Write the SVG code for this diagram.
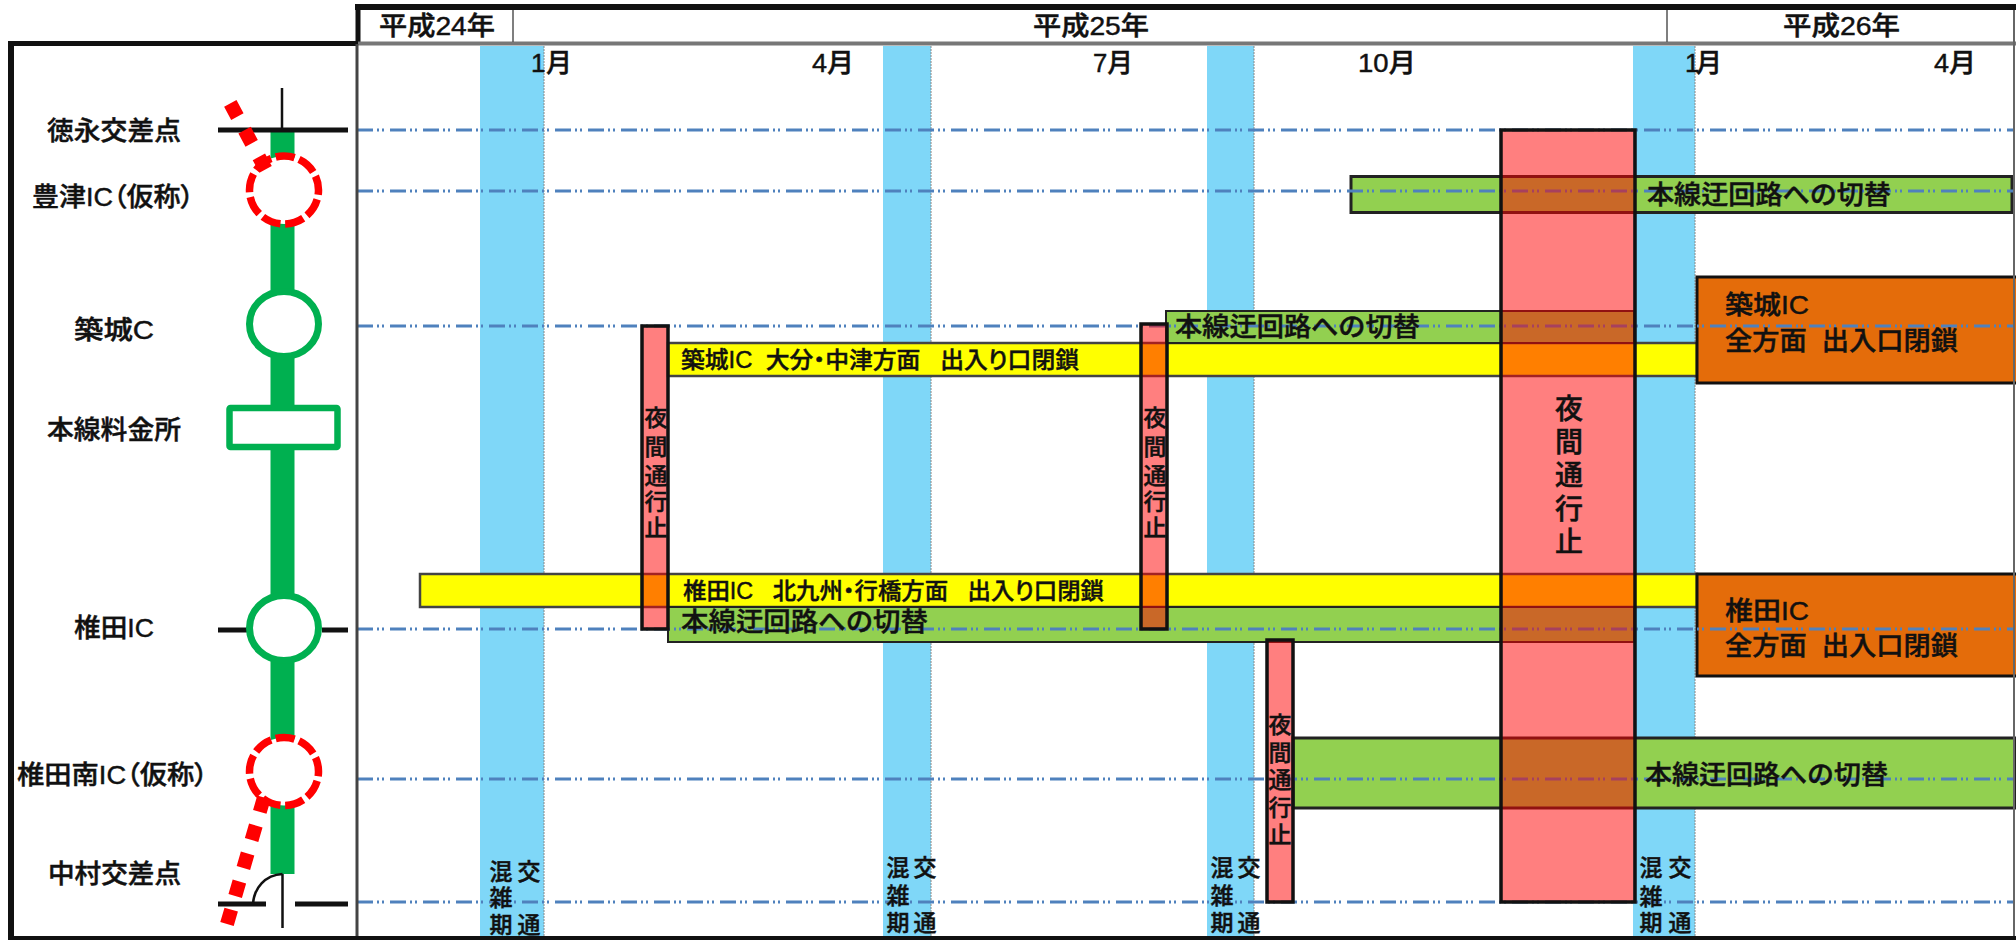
<svg xmlns="http://www.w3.org/2000/svg" width="2016" height="940" viewBox="0 0 2016 940">
<style>
text{font-family:"Liberation Sans","Noto Sans CJK JP",sans-serif;fill:#111;stroke:#111;stroke-width:.45;font-size:26px;font-weight:500}
.m{text-anchor:middle}
.s22{font-size:23px}
.big{font-size:28px}
.palt{font-feature-settings:"palt"}
.band{fill:#7fd7f8}
.edge{stroke:#888;stroke-width:1;stroke-dasharray:2 1;fill:none}
.guide{stroke:#4f81bd;stroke-width:3;stroke-dasharray:16 4 2 3 2 6;fill:none}
.green{fill:#92d050;stroke:#222;stroke-width:3}
.yellow{fill:#ff0;stroke:#444;stroke-width:2.5}
.orange{fill:#e46c0a;stroke:#111;stroke-width:3}
.pink{fill:#f00;fill-opacity:.5;stroke:#111;stroke-width:3.5}
.road{stroke:#00b050;stroke-width:24;fill:none}
.ring{fill:#fff;stroke:#00b050;stroke-width:7}
.dring{fill:#fff;stroke:#f00;stroke-width:7.5;stroke-dasharray:32 8;stroke-dashoffset:-16}
.red{stroke:#f00;stroke-width:14;fill:none}
.blk{stroke:#111;fill:none}
</style>
<rect width="2016" height="940" fill="#fff"/>
<g id="traffic-bands">
<rect class="band" x="480" y="46" width="64" height="890"/><path class="edge" d="M544 46V936"/>
<rect class="band" x="883" y="46" width="48" height="890"/><path class="edge" d="M931 46V936"/>
<rect class="band" x="1207" y="46" width="47" height="890"/><path class="edge" d="M1254 46V936"/>
<rect class="band" x="1633" y="46" width="62" height="890"/><path class="edge" d="M1695 46V936"/>
</g>
<g id="bar-yellow-tsuiki"><rect class="yellow" x="668" y="343" width="1029" height="33"/></g>
<g id="bar-yellow-shiida"><rect class="yellow" x="420" y="574" width="1277" height="33"/></g>
<g id="bar-green-toyotsu"><rect class="green" x="1351" y="176.500" width="661" height="36"/></g>
<g id="bar-green-tsuiki"><rect class="green" x="1166" y="311" width="468" height="32" style="stroke-width:2"/></g>
<g id="bar-green-shiida"><rect class="green" x="668" y="607" width="966" height="35" style="stroke-width:2"/></g>
<g id="bar-green-shiidaminami"><rect class="green" x="1293" y="738" width="723" height="70"/></g>
<g id="box-tsuiki"><rect class="orange" x="1697" y="277" width="321" height="106"/></g>
<g id="box-shiida"><rect class="orange" x="1697" y="574" width="321" height="102"/></g>
<g id="connectors">
<path class="guide" d="M357 130H2014"/>
<path class="guide" d="M357 191H2014"/>
<path class="guide" d="M357 326H2014"/>
<path class="guide" d="M357 629H2014"/>
<path class="guide" d="M357 779H2014"/>
<path class="guide" d="M357 902H2014"/>
<path class="road" d="M282.500 130V874"/>
<path class="blk" stroke-width="5" d="M218 130H348M218 630H248M322 630H348M218 904H266M295 904H348"/>
<path class="blk" stroke-width="2.500" d="M282 88V130M282.500 874V928M282.500 874C265 875 254 888 253 904"/>
</g>
<g id="closure-1"><rect class="pink" x="642" y="326" width="26" height="303"/></g>
<g id="closure-2"><rect class="pink" x="1141" y="324" width="26" height="305"/></g>
<g id="closure-3"><rect class="pink" x="1267" y="640" width="26" height="262"/></g>
<g id="closure-4"><rect class="pink" x="1501" y="130" width="134" height="772"/></g>
<g id="frame">
<path class="blk" stroke-width="6" d="M355 7H2016"/>
<path class="blk" stroke-width="5" d="M358 4V44M8 43.500H358"/>
<path d="M358 43.500H2016" stroke="#777" stroke-width="4" fill="none"/>
<path d="M513 10V42M1667 10V42" stroke="#555" stroke-width="1.500" fill="none"/>
<path d="M357 44V936" stroke="#444" stroke-width="3" fill="none"/>
<path d="M2014 10V936" stroke="#666" stroke-width="2" fill="none"/>
<path class="blk" stroke-width="6" d="M11 43V938"/>
<path class="blk" stroke-width="4" d="M8 938H2016"/>
</g>
<g id="node-tokunaga">
<text x="47" y="140" textLength="134" lengthAdjust="spacingAndGlyphs">徳永交差点</text>
</g>
<g id="node-toyotsu">
<ellipse class="dring" cx="284" cy="190" rx="34.500" ry="34" pathLength="360"/>
<path class="red" stroke-dasharray="15 15.300" d="M230.300 103.400L265.600 169.400"/>
<text class="palt" x="32" y="206" textLength="162" lengthAdjust="spacingAndGlyphs">豊津IC（仮称）</text>
</g>
<g id="node-tsuiki">
<ellipse class="ring" cx="284" cy="324" rx="34.500" ry="32.500"/>
<text x="74" y="339" textLength="80" lengthAdjust="spacingAndGlyphs">築城C</text>
</g>
<g id="node-toll">
<rect x="229.500" y="408" width="108" height="39" fill="#fff" stroke="#00b050" stroke-width="6.500" rx="1"/>
<text x="47" y="439" textLength="134" lengthAdjust="spacingAndGlyphs">本線料金所</text>
</g>
<g id="node-shiida">
<ellipse class="ring" cx="284" cy="628" rx="34.500" ry="32.500"/>
<text x="74" y="637" textLength="80" lengthAdjust="spacingAndGlyphs">椎田IC</text>
</g>
<g id="node-shiidaminami">
<ellipse class="dring" cx="284" cy="771.500" rx="34.500" ry="34" pathLength="360"/>
<path class="red" stroke-dasharray="15 14.200" d="M264 797.500L227 924"/>
<text class="palt" x="17" y="784" textLength="191" lengthAdjust="spacingAndGlyphs">椎田南IC（仮称）</text>
</g>
<g id="node-nakamura">
<text x="48" y="883" textLength="133" lengthAdjust="spacingAndGlyphs">中村交差点</text>
</g>
<g id="years">
<text x="379" y="35" textLength="116" lengthAdjust="spacingAndGlyphs">平成24年</text>
<text x="1033" y="35" textLength="116" lengthAdjust="spacingAndGlyphs">平成25年</text>
<text x="1783" y="35" textLength="117" lengthAdjust="spacingAndGlyphs">平成26年</text>
</g>
<g id="months">
<text x="531" y="72" textLength="41" lengthAdjust="spacing">1月</text>
<text x="812" y="72" textLength="42" lengthAdjust="spacingAndGlyphs">4月</text>
<text x="1093" y="72" textLength="40" lengthAdjust="spacingAndGlyphs">7月</text>
<text x="1358" y="72" textLength="58" lengthAdjust="spacingAndGlyphs">10月</text>
<text x="1685" y="72" textLength="37" lengthAdjust="spacing">1月</text>
<text x="1934" y="72" textLength="42" lengthAdjust="spacingAndGlyphs">4月</text>
</g>
<g id="bar-labels">
<text x="1647" y="204" textLength="244" lengthAdjust="spacingAndGlyphs">本線迂回路への切替</text>
<text x="1175" y="336" textLength="245" lengthAdjust="spacingAndGlyphs">本線迂回路への切替</text>
<text x="681" y="631" textLength="247" lengthAdjust="spacingAndGlyphs">本線迂回路への切替</text>
<text x="1645" y="784" textLength="243" lengthAdjust="spacingAndGlyphs">本線迂回路への切替</text>
<text class="s22 palt" x="681" y="368" xml:space="preserve" textLength="398" lengthAdjust="spacingAndGlyphs">築城IC  大分・中津方面   出入り口閉鎖</text>
<text class="s22 palt" x="683" y="599" xml:space="preserve" textLength="421" lengthAdjust="spacingAndGlyphs">椎田IC   北九州・行橋方面   出入り口閉鎖</text>
<text x="1725" y="314" textLength="84" lengthAdjust="spacingAndGlyphs">築城IC</text>
<text x="1725" y="350" xml:space="preserve" textLength="233" lengthAdjust="spacingAndGlyphs">全方面  出入口閉鎖</text>
<text x="1725" y="620" textLength="84" lengthAdjust="spacingAndGlyphs">椎田IC</text>
<text x="1725" y="655" xml:space="preserve" textLength="233" lengthAdjust="spacingAndGlyphs">全方面  出入口閉鎖</text>
</g>
<g id="closure-labels">
<text class="m s22"><tspan x="656" y="426">夜</tspan><tspan x="656" y="455">間</tspan><tspan x="656" y="484">通</tspan><tspan x="656" y="510">行</tspan><tspan x="656" y="536">止</tspan></text>
<text class="m s22"><tspan x="1155" y="426">夜</tspan><tspan x="1155" y="455">間</tspan><tspan x="1155" y="484">通</tspan><tspan x="1155" y="510">行</tspan><tspan x="1155" y="536">止</tspan></text>
<text class="m s22"><tspan x="1280" y="733">夜</tspan><tspan x="1280" y="761">間</tspan><tspan x="1280" y="788">通</tspan><tspan x="1280" y="816">行</tspan><tspan x="1280" y="843">止</tspan></text>
<text class="m big"><tspan x="1569" y="419">夜</tspan><tspan x="1569" y="452">間</tspan><tspan x="1569" y="485">通</tspan><tspan x="1569" y="519">行</tspan><tspan x="1569" y="552">止</tspan></text>
</g>
<g id="band-labels">
<text class="m s22"><tspan x="501" y="880">混</tspan><tspan x="501" y="906">雑</tspan><tspan x="501" y="933">期</tspan><tspan x="529" y="880">交</tspan><tspan x="529" y="933">通</tspan></text>
<text class="m s22"><tspan x="898" y="876">混</tspan><tspan x="898" y="904">雑</tspan><tspan x="898" y="931">期</tspan><tspan x="925" y="876">交</tspan><tspan x="925" y="931">通</tspan></text>
<text class="m s22"><tspan x="1222" y="876">混</tspan><tspan x="1222" y="904">雑</tspan><tspan x="1222" y="931">期</tspan><tspan x="1249" y="876">交</tspan><tspan x="1249" y="931">通</tspan></text>
<text class="m s22"><tspan x="1651" y="876">混</tspan><tspan x="1651" y="905">雑</tspan><tspan x="1651" y="931">期</tspan><tspan x="1680" y="876">交</tspan><tspan x="1680" y="931">通</tspan></text>
</g>
</svg>
